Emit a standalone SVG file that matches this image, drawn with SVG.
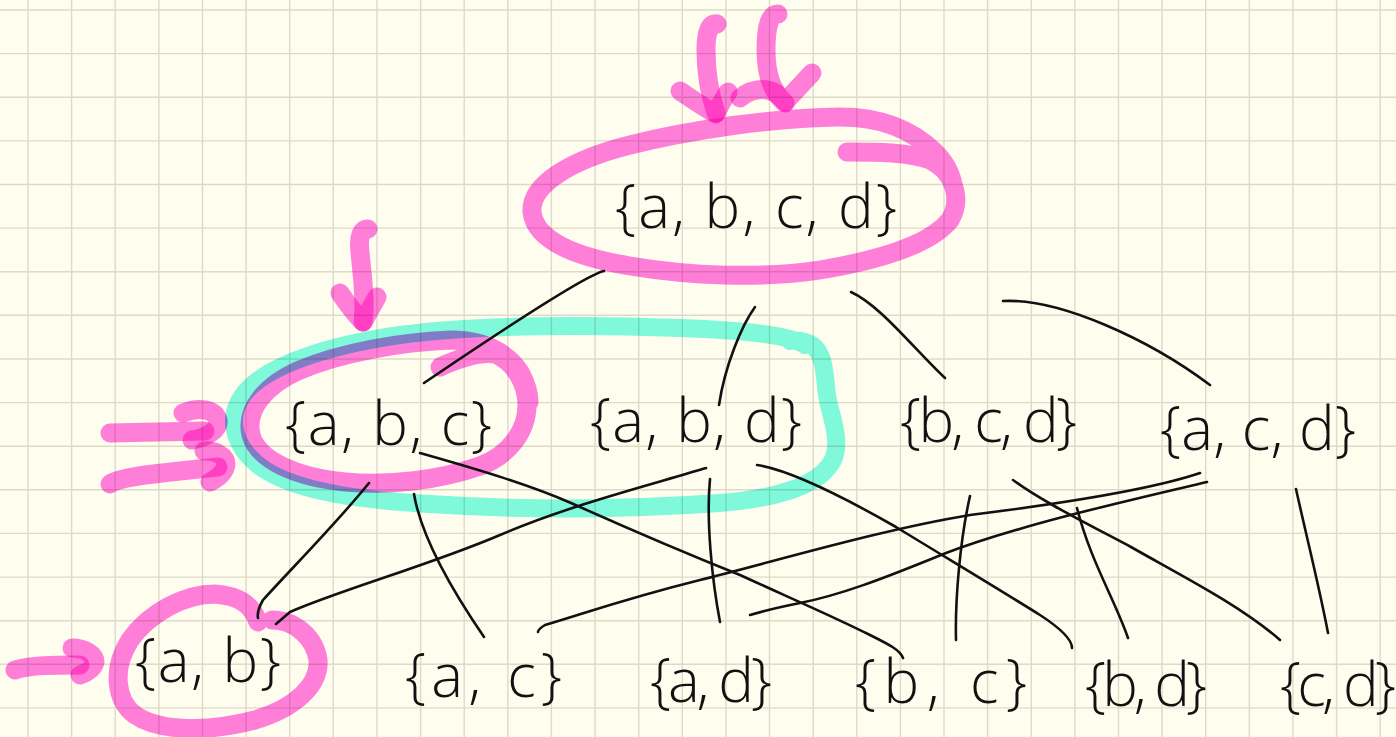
<svg xmlns="http://www.w3.org/2000/svg" width="1396" height="737" viewBox="0 0 1396 737">
<style>
.grid{fill:none;stroke:#DEDACA;stroke-width:1.4}
.hl{fill:none;stroke:#FF80E8;stroke-width:19;stroke-linecap:round;stroke-linejoin:round;mix-blend-mode:multiply}
.cy{fill:none;stroke:#80FBEA;stroke-width:18;stroke-linecap:round;stroke-linejoin:round;mix-blend-mode:multiply}
.ln{fill:none;stroke:#111;stroke-width:2.6;stroke-linecap:round;stroke-linejoin:round}
.lb{font-family:"Open Sans","Liberation Sans",sans-serif;font-weight:300;font-size:60px;fill:#111}
</style>
<rect width="1396" height="737" fill="#FFFDEE"/>
<path class="grid" d="M28,0V737M71.6,0V737M115.2,0V737M158.9,0V737M202.5,0V737M246.1,0V737M289.7,0V737M333.3,0V737M377,0V737M420.6,0V737M464.2,0V737M507.8,0V737M551.4,0V737M595.1,0V737M638.7,0V737M682.3,0V737M725.9,0V737M769.5,0V737M813.2,0V737M856.8,0V737M900.4,0V737M944,0V737M987.6,0V737M1031.3,0V737M1074.9,0V737M1118.5,0V737M1162.1,0V737M1205.7,0V737M1249.4,0V737M1293,0V737M1336.6,0V737M1380.2,0V737M0,10H1396M0,53.6H1396M0,97.2H1396M0,140.9H1396M0,184.5H1396M0,228.1H1396M0,271.7H1396M0,315.3H1396M0,359H1396M0,402.6H1396M0,446.2H1396M0,489.8H1396M0,533.4H1396M0,577.1H1396M0,620.7H1396M0,664.3H1396M0,707.9H1396"/>
<g id="highlights">
<path class="cy" d="M805,345 C790,335 740,330 680,328 C600,325 480,324 400,335 C330,345 265,365 243,395 C225,420 235,450 265,470 C300,492 360,500 430,504 C520,510 620,510 720,503 C780,498 820,485 833,460 C842,440 830,415 827,395 C824,372 825,355 812,345 C803,340 795,340 790,341"/>
<path class="hl" d="M847,152 C875,152 910,152 930,160 C955,172 962,200 950,220 C930,245 880,260 820,270 C760,279 690,276 630,266 C575,257 535,240 532,212 C530,185 570,160 630,145 C690,130 770,118 840,117 C880,117 910,128 935,152 C945,162 950,172 952,180"/>
<path class="hl" d="M717,24 C710,22 706,32 706,50 C706,75 710,95 716,113"/>
<path class="hl" d="M680,91 C692,99 705,108 716,114 C720,104 724,98 728,92"/>
<path class="hl" d="M778,14 C770,14 766,25 766,50 C766,75 772,92 785,103"/>
<path class="hl" d="M740,98 C752,88 772,84 785,102 L812,73"/>
<path class="hl" d="M368,229 C362,228 358,236 360,252 C362,275 366,300 363,322"/>
<path class="hl" d="M340,293 C348,305 356,315 363,322 L377,297"/>
<path class="hl" d="M110,433 L205,431"/>
<path class="hl" d="M183,413 C200,406 215,410 218,420 C220,430 205,438 192,440"/>
<path class="hl" d="M110,484 C118,478 150,474 180,471 L218,467"/>
<path class="hl" d="M204,451 C215,450 226,456 226,464 C225,472 218,478 210,482"/>
<path class="hl" d="M440,367 C460,358 480,352 495,354 C515,362 527,385 527,405 C527,430 510,455 480,466 C440,480 390,486 345,482 C295,477 258,460 251,435 C245,410 265,385 300,370 C340,353 400,342 450,340 C480,340 505,350 520,372 C527,385 529,395 529,402"/>
<path class="hl" d="M15,670 C30,665 55,665 80,665"/>
<path class="hl" d="M72,648 C85,648 95,655 95,662 C93,669 86,673 80,675"/>
<path class="hl" d="M258,622 C252,605 240,596 215,594 C185,594 150,612 130,640 C112,668 115,700 135,715 C160,732 210,732 255,720 C295,708 320,685 318,660 C315,638 295,620 272,620"/>
</g>
<g id="connectors">
<path class="ln" d="M604,271 C590,274 520,318 424,383"/>
<path class="ln" d="M755,307 C742,325 725,365 719,405"/>
<path class="ln" d="M851,292 C880,305 915,350 945,378"/>
<path class="ln" d="M1003,301 C1060,298 1150,340 1210,385"/>
<path class="ln" d="M369,483 C335,525 290,570 263,600 C259,607 257,613 258,618"/>
<path class="ln" d="M414,494 C420,530 445,580 484,637"/>
<path class="ln" d="M420,453 C480,470 530,485 571,503 C620,525 690,555 740,575 C790,598 830,615 870,635 C890,645 900,650 903,658"/>
<path class="ln" d="M706,468 C650,485 570,505 500,535 C430,565 340,590 290,612 L276,624"/>
<path class="ln" d="M710,479 C706,520 712,580 720,622"/>
<path class="ln" d="M757,465 C790,470 840,495 896,527 C950,560 1000,590 1040,615 C1060,628 1072,640 1072,648"/>
<path class="ln" d="M970,496 C960,540 955,600 956,640"/>
<path class="ln" d="M1077,508 C1090,560 1115,600 1128,638"/>
<path class="ln" d="M1013,480 C1040,500 1080,520 1131,547 C1180,575 1240,605 1280,640"/>
<path class="ln" d="M1200,473 C1150,490 1050,505 970,515 C880,530 780,560 700,580 C620,600 580,615 545,625 C540,628 538,630 538,632"/>
<path class="ln" d="M1207,482 C1130,500 1020,525 946,553 C880,580 840,595 800,603 C775,608 760,612 750,615"/>
<path class="ln" d="M1296,489 C1305,530 1320,590 1328,633"/>
</g>
<g id="node-abcd"><text class="lb" x="615" y="228" textLength="282" lengthAdjust="spacing">{a, b, c, d}</text></g>
<g id="node-abc"><text class="lb" x="285" y="445" textLength="207" lengthAdjust="spacing">{a, b, c}</text></g>
<g id="node-abd"><text class="lb" x="590" y="442" textLength="212" lengthAdjust="spacing">{a, b, d}</text></g>
<g id="node-bcd"><text class="lb" x="900" y="442" textLength="177" lengthAdjust="spacing">{b, c, d}</text></g>
<g id="node-acd"><text class="lb" x="1160" y="450" textLength="196" lengthAdjust="spacing">{a, c, d}</text></g>
<g id="node-ab"><text class="lb" x="135" y="682" textLength="146" lengthAdjust="spacing">{a, b}</text></g>
<g id="node-ac"><text class="lb" x="405" y="697" textLength="157" lengthAdjust="spacing">{a, c}</text></g>
<g id="node-ad"><text class="lb" x="650" y="702" textLength="122" lengthAdjust="spacing">{a, d}</text></g>
<g id="node-bc"><text class="lb" x="855" y="703" textLength="172" lengthAdjust="spacing">{b, c}</text></g>
<g id="node-bd"><text class="lb" x="1085" y="706" textLength="122" lengthAdjust="spacing">{b, d}</text></g>
<g id="node-cd"><text class="lb" x="1280" y="706" textLength="116" lengthAdjust="spacing">{c, d}</text></g>
</svg>
